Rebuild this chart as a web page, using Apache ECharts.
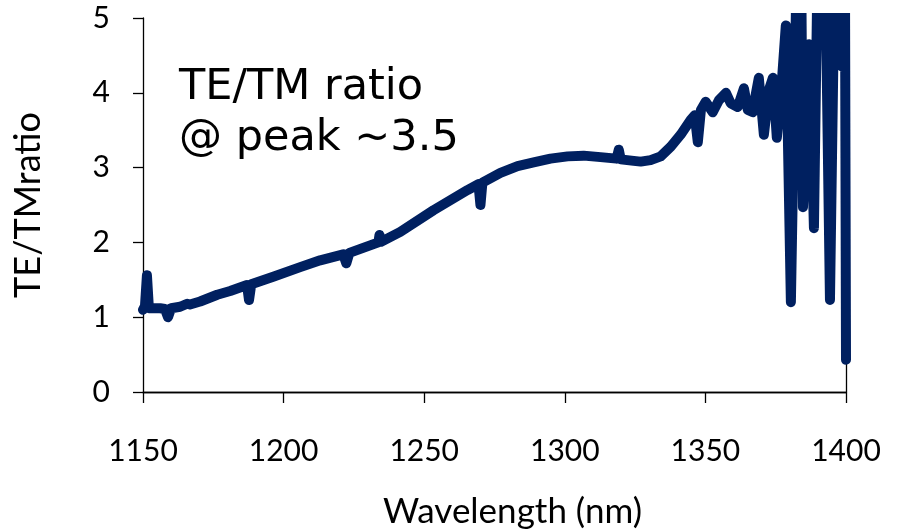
<!DOCTYPE html>
<html>
<head>
<meta charset="utf-8">
<script src="https://cdn.jsdelivr.net/npm/echarts@6/dist/echarts.min.js"></script>
<style>html,body{margin:0;padding:0;background:#fff}#c{width:898px;height:529px}</style>
</head>
<body>
<div id="c"></div>
<script>
// Wavelength (nm)
const wavelength = [1150.0,1150.7,1151.4,1152.1,1153.6,1156.1,1157.8,1158.9,1160.0,1163.2,1165.7,1166.7,1170.3,1176.4,1181.0,1187.0,1187.7,1188.5,1196.3,1205.9,1213.0,1221.2,1222.3,1223.4,1233.7,1234.1,1234.8,1241.5,1253.3,1265.4,1269.3,1270.0,1270.7,1277.1,1283.2,1288.9,1294.9,1301.0,1306.7,1312.7,1318.4,1319.2,1319.9,1324.5,1327.0,1330.5,1334.1,1337.7,1341.2,1344.8,1346.2,1347.3,1348.4,1350.1,1352.6,1354.8,1357.3,1359.0,1361.5,1363.7,1365.1,1366.9,1368.0,1369.0,1370.8,1372.6,1374.0,1375.4,1376.9,1378.6,1380.4,1382.6,1384.0,1384.7,1386.9,1388.6,1390.0,1392.5,1394.3,1396.1,1397.5,1398.6,1399.6,1400.0];
// TE/TM ratio
const ratio = [1.10,1.15,1.56,1.12,1.12,1.12,1.11,1.00,1.12,1.14,1.18,1.17,1.21,1.30,1.35,1.43,1.23,1.44,1.54,1.67,1.76,1.84,1.72,1.86,2.00,2.10,2.01,2.14,2.43,2.70,2.78,2.50,2.80,2.93,3.02,3.07,3.12,3.15,3.16,3.14,3.12,3.24,3.11,3.09,3.08,3.10,3.15,3.28,3.44,3.64,3.70,3.34,3.77,3.88,3.74,3.90,4.00,3.86,3.81,4.06,3.77,3.74,4.00,4.20,3.44,4.04,4.20,3.40,4.00,4.90,1.20,6.0,6.0,2.47,4.65,2.19,6.0,6.0,1.23,6.0,6.0,4.35,6.0,0.43];
const xTicks = [1150,1200,1250,1300,1350,1400];
const yTicks = [0,1,2,3,4,5];

const chart = echarts.init(document.getElementById('c'), null, {renderer:'canvas'});
const lab = {fontFamily:'Lato', fontSize:30, color:'#000', formatter:v=>String(v)};
const axLine = {show:true, lineStyle:{color:'#000', width:1.3}};
chart.setOption({
  animation:false,
  grid:{left:143, right:52, top:18, bottom:137, containLabel:false, outerBoundsMode:'none'},
  xAxis:[{
    type:'value', min:xTicks[0], max:xTicks[xTicks.length-1], interval:50,
    axisLine:axLine, axisTick:{show:true, inside:false, length:11, lineStyle:{color:'#000', width:1.3}},
    axisLabel:Object.assign({margin:44}, lab),
    splitLine:{show:false},
    name:'Wavelength (nm)', nameLocation:'middle', nameGap:102,
    nameTextStyle:{fontFamily:'Lato', fontSize:35, color:'#000', padding:[0,0,0,36]}
  },{
    type:'value', position:'top', min:xTicks[0], max:xTicks[xTicks.length-1],
    axisLine:axLine, axisTick:{show:false}, axisLabel:{show:false}, splitLine:{show:false}
  }],
  yAxis:[{
    type:'value', min:yTicks[0], max:yTicks[yTicks.length-1], interval:1,
    axisLine:axLine, axisTick:{show:true, inside:false, length:10, lineStyle:{color:'#000', width:1.3}},
    axisLabel:Object.assign({margin:33}, lab),
    splitLine:{show:false},
    name:'TE/TMratio', nameLocation:'middle', nameGap:97, nameRotate:90,
    nameTextStyle:{fontFamily:'Lato', fontSize:36, color:'#000'}
  },{
    type:'value', position:'right', min:0, max:5,
    axisLine:axLine, axisTick:{show:false}, axisLabel:{show:false}, splitLine:{show:false}
  }],
  graphic:[{
    type:'text', left:179, top:62,
    style:{text:'TE/TM ratio\n@ peak ~3.5', font:'43px "DejaVu Sans"', lineHeight:51, fill:'#000'}
  }],
  series:[{
    type:'line', showSymbol:false, clip:true,
    data: wavelength.map((w,i)=>[w, ratio[i]]),
    lineStyle:{color:'#002060', width:10, cap:'round', join:'round'},
    itemStyle:{color:'#002060'}
  }]
});
</script>
</body>
</html>
